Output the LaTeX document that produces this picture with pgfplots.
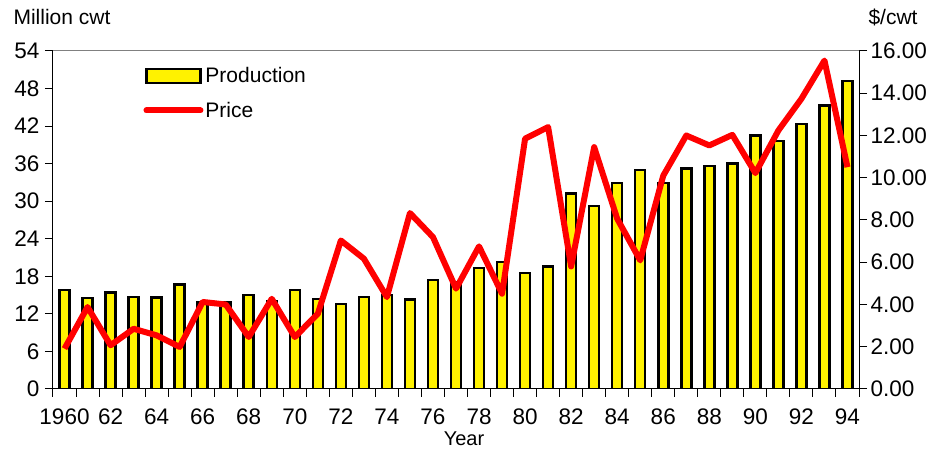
\documentclass[border=0pt]{standalone}
\usepackage{pgfplots}
\usepackage{pgfplotstable}
\pgfplotsset{compat=1.18}
\usepackage{fontspec}
\setmainfont{Liberation Sans}

\pgfplotstableread{
yr prod price
0 15.8 1.91
1 14.5 3.88
2 15.4 2.07
3 14.7 2.85
4 14.6 2.54
5 16.7 1.99
6 13.9 4.12
7 13.8 4.00
8 15.0 2.46
9 14.0 4.27
10 15.8 2.46
11 14.4 3.56
12 13.6 7.03
13 14.7 6.17
14 15.0 4.35
15 14.3 8.33
16 17.4 7.19
17 17.0 4.75
18 19.3 6.75
19 20.3 4.51
20 18.5 11.85
21 19.6 12.40
22 31.2 5.80
23 29.2 11.45
24 32.9 8.06
25 35.0 6.09
26 32.9 10.10
27 35.2 12.00
28 35.6 11.53
29 36.0 12.03
30 40.5 10.22
31 39.6 12.24
32 42.3 13.74
33 45.3 15.55
34 49.2 10.50
}\data

\newcommand{\tickfont}{\fontsize{22.5}{26}\selectfont}
\newcommand{\txtfont}{\fontsize{21}{25}\selectfont}

\begin{document}
\begin{tikzpicture}[x=1pt,y=1pt]
\useasboundingbox (0,0) rectangle (940,449);
\begin{axis}[
  scale only axis, width=806pt, height=338pt,
  at={(53pt,60pt)}, anchor=south west,
  xmin=-0.5, xmax=34.5, ymin=0, ymax=54,
  axis y line*=left, axis x line*=bottom,
  axis line style={-, black, line width=1pt},
  xtick={0,2,...,34},
  xticklabels={1960,62,64,66,68,70,72,74,76,78,80,82,84,86,88,90,92,94},
  minor xtick={-0.5,0.5,...,34.5},
  major x tick style={draw=none},
  ytick={0,6,...,54},
  tick align=outside,
  tick style={black, line width=1pt},
  major tick length=8pt, minor tick length=8pt,
  /pgf/number format/assume math mode=true,
  ticklabel style={font=\tickfont},
  xticklabel style={yshift=-8pt},
  yticklabel style={xshift=-2pt},
  legend style={draw=none, fill=none, font=\txtfont,
    at={(axis description cs:0.112,0.958)}, anchor=north west,
    row sep=14pt, inner sep=0pt,
    /tikz/every odd column/.append style={column sep=0pt}},
  legend cell align=left,
]
\addplot[ybar, bar width=10pt, fill=yellow, draw=black, /tikz/line width=2.5pt,
  legend image code/.code={\draw[fill=yellow,draw=black,line width=2.5pt] (0pt,-7pt) rectangle (54pt,7pt);}]
  table[x=yr,y=prod]{\data};
\addlegendentry{Production}
\addlegendimage{legend image code/.code={\draw[red,line width=6pt,line cap=round] (0pt,0pt) -- (54pt,0pt);}}
\addlegendentry{Price}
\draw[gray, line width=1pt] (rel axis cs:0,1) -- (rel axis cs:1,1);
\end{axis}
\begin{axis}[
  scale only axis, width=806pt, height=338pt,
  at={(53pt,60pt)}, anchor=south west,
  xmin=-0.5, xmax=34.5, ymin=0, ymax=16,
  axis y line*=right, axis x line=none,
  axis line style={-, black, line width=1pt},
  ytick={0,2,...,16},
  tick align=outside,
  tick style={black, line width=1pt},
  major tick length=8pt,
  /pgf/number format/assume math mode=true,
  yticklabel style={font=\tickfont, /pgf/number format/.cd, fixed, fixed zerofill, precision=2},
]
\addplot[red, line width=6pt, line join=round, no markers] table[x=yr,y=price]{\data};
\end{axis}
\node[anchor=base, font=\fontsize{20}{24}\selectfont, inner sep=0pt] at (464,3) {Year};
\node[anchor=base west, font=\txtfont] at (10,424) {Million cwt};
\node[anchor=base, font=\txtfont] at (893,424) {\$/cwt};
\end{tikzpicture}
\end{document}
